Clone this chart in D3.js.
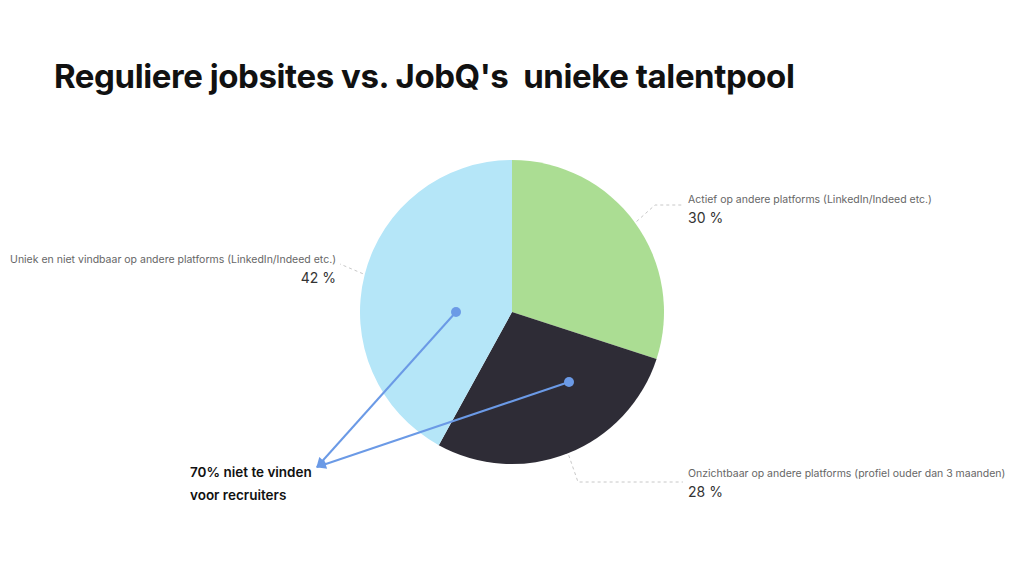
<!DOCTYPE html>
<html><head><meta charset="utf-8">
<script src="https://cdn.jsdelivr.net/npm/d3@7"></script>
<style>body{margin:0;background:#fff}svg{display:block}</style>
</head><body>
<svg id="c" width="1024" height="576"></svg>
<script>
const categories = ["Actief op andere platforms (LinkedIn/Indeed etc.)",
  "Onzichtbaar op andere platforms (profiel ouder dan 3 maanden)",
  "Uniek en niet vindbaar op andere platforms (LinkedIn/Indeed etc.)"];
const values = [30, 28, 42];
const colors = ["#abdd93", "#2e2c36", "#b5e6f8"];
const title = "Reguliere jobsites vs. JobQ's\u00a0 unieke talentpool";
const annotationLines = ["70% niet te vinden", "voor recruiters"];

const svg = d3.select("#c");
const cx = 512, cy = 312, R = 152;
const font = "Inter, 'Open Sans', sans-serif";

svg.append("text").attr("x", 54).attr("y", 88).attr("font-family", font)
  .attr("font-weight", 700).attr("font-size", 33).attr("fill", "#111")
  .attr("letter-spacing", -0.42).text(title);

const pie = d3.pie().sort(null).value(d => d)(values);
const arc = d3.arc().innerRadius(0).outerRadius(R);
const g = svg.append("g").attr("transform", `translate(${cx},${cy})`);
g.selectAll("path").data(pie).join("path").attr("d", arc).attr("fill", (d, i) => colors[i]);

// leader lines and labels
const labelCfg = [
  {knee: [655 - cx, 205 - cy], end: [682 - cx, 205 - cy], tx: 688, ty: 203, anchor: "start"},
  {knee: [578 - cx, 482 - cy], end: [683 - cx, 482 - cy], tx: 688, ty: 477, anchor: "start"},
  {knee: [340 - cx, 264 - cy], end: [340 - cx, 264 - cy], tx: 336, ty: 263, anchor: "end"}
];
pie.forEach((d, i) => {
  const c = labelCfg[i];
  const a = (d.startAngle + d.endAngle) / 2;
  const p0 = [Math.sin(a) * (R + 2), -Math.cos(a) * (R + 2)];
  g.append("path").attr("d", d3.line()([p0, c.knee, c.end]))
    .attr("fill", "none").attr("stroke", "#c8c8c8").attr("stroke-width", 1)
    .attr("stroke-dasharray", "3,3");
  svg.append("text").attr("x", c.tx).attr("y", c.ty).attr("text-anchor", c.anchor)
    .attr("font-family", font).attr("font-size", 10.5).attr("fill", "#666").text(categories[i]);
  svg.append("text").attr("x", c.tx).attr("y", c.ty + 20).attr("text-anchor", c.anchor)
    .attr("font-family", font).attr("font-size", 14).attr("fill", "#333").text(values[i] + " %");
});

// arrows
const blue = "#6b9ae6";
svg.append("defs").append("marker").attr("id", "ah").attr("viewBox", "0 0 10 10")
  .attr("refX", 9).attr("refY", 5).attr("markerWidth", 11).attr("markerHeight", 10)
  .attr("markerUnits", "userSpaceOnUse").attr("orient", "auto")
  .append("path").attr("d", "M0,0L10,5L0,10z").attr("fill", blue);
const tip = [317, 467];
const starts = [[456, 312], [569, 382]];
starts.forEach(s => {
  svg.append("line").attr("x1", s[0]).attr("y1", s[1]).attr("x2", tip[0]).attr("y2", tip[1])
    .attr("stroke", blue).attr("stroke-width", 2).attr("marker-end", "url(#ah)");
  svg.append("circle").attr("cx", s[0]).attr("cy", s[1]).attr("r", 5).attr("fill", blue);
});
annotationLines.forEach((t, i) => {
  svg.append("text").attr("x", 190).attr("y", 477 + i * 23).attr("font-family", font)
    .attr("font-weight", 600).attr("font-size", 13.5).attr("fill", "#111").text(t);
});
</script>
</body></html>
